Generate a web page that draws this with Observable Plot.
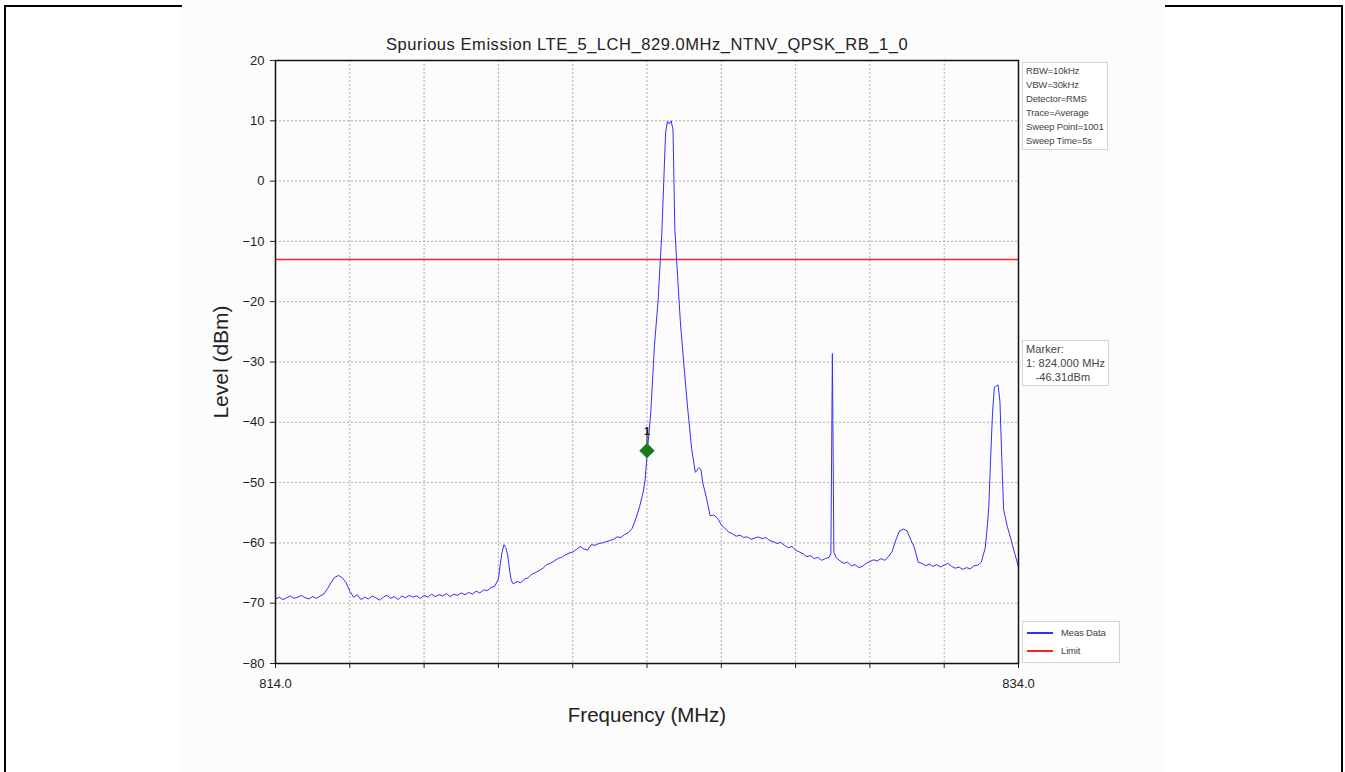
<!DOCTYPE html>
<html>
<head>
<meta charset="utf-8">
<script src="https://cdn.jsdelivr.net/npm/d3@7"></script>
<script src="https://cdn.jsdelivr.net/npm/@observablehq/plot@0.6"></script>
<style>
  html, body { margin: 0; padding: 0; background: #fff; }
  #wrap { position: relative; width: 1345px; height: 772px; overflow: hidden; font-family: "Liberation Sans", Arial, sans-serif; }
  .bl { position: absolute; background: #000; }
  #photo { position: absolute; left: 182px; top: 0; width: 983px; height: 772px; background: #fcfcfc; }
  #chart { position: absolute; left: 0; top: 0; }
  .box { position: absolute; border: 1px solid #d4d4d4; background: #fff; font-size: 9.5px; color: #444; line-height: 14px; padding: 1px 3px; white-space: pre; letter-spacing: -0.15px; }
  #mk { font-size: 11px; letter-spacing: 0.1px; }
  .ttl { letter-spacing: 0.55px; }
</style>
</head>
<body>
<div id="wrap">
  <div class="bl" style="left:4px;top:5px;width:2px;height:767px"></div>
  <div class="bl" style="left:4px;top:5px;width:180px;height:2px"></div>
  <div class="bl" style="left:1164px;top:5px;width:179px;height:2px"></div>
  <div class="bl" style="left:1341px;top:5px;width:2px;height:767px"></div>
  <div id="photo"></div>
  <div id="chart"></div>
</div>
<script>
// ---- data ----
const title = "Spurious Emission LTE_5_LCH_829.0MHz_NTNV_QPSK_RB_1_0";
const xTicks = [814, 816, 818, 820, 822, 824, 826, 828, 830, 832, 834];
const xTickLabels = ["814.0", "", "", "", "", "", "", "", "", "", "834.0"];
const yTicks = [20, 10, 0, -10, -20, -30, -40, -50, -60, -70, -80];
const limitLevel = -13;
const markerFreq = [824.0];
const markerLevel = [-44.7];
const markerName = ["1"];
const infoLines = ["RBW=10kHz", "VBW=30kHz", "Detector=RMS", "Trace=Average", "Sweep Point=1001", "Sweep Time=5s"];
const markerLines = ["Marker:", "1: 824.000 MHz", "   -46.31dBm"];
const seriesNames = ["Meas Data", "Limit"];

const freq = [
  814.0, 814.1, 814.2, 814.3, 814.4, 814.5, 814.6, 814.7, 814.8, 814.9,
  815.0, 815.1, 815.2, 815.3, 815.4, 815.5, 815.6, 815.7, 815.8, 815.9,
  816.0, 816.1, 816.2, 816.3, 816.4, 816.5, 816.6, 816.7, 816.8, 816.9,
  817.0, 817.1, 817.2, 817.3, 817.4, 817.5, 817.6, 817.7, 817.8, 817.9,
  818.0, 818.1, 818.2, 818.3, 818.4, 818.5, 818.6, 818.7, 818.8, 818.9,
  819.0, 819.1, 819.2, 819.3, 819.4, 819.5, 819.6, 819.7, 819.8, 819.9,
  820.0, 820.05, 820.1, 820.15, 820.2, 820.25, 820.3, 820.35, 820.4, 820.5,
  820.6, 820.7, 820.8, 820.9, 821.0, 821.1, 821.2, 821.3, 821.4, 821.5,
  821.6, 821.7, 821.8, 821.9, 822.0, 822.1, 822.2, 822.3, 822.4, 822.5,
  822.6, 822.7, 822.8, 822.9, 823.0, 823.1, 823.2, 823.3, 823.4, 823.5,
  823.6, 823.7, 823.8, 823.9, 823.95, 824.0, 824.1, 824.2, 824.3, 824.4,
  824.5, 824.55, 824.6, 824.65, 824.7, 824.75, 824.8, 824.9, 825.0, 825.1,
  825.2, 825.3, 825.4, 825.45, 825.5, 825.6, 825.7, 825.8, 825.9, 826.0,
  826.1, 826.2, 826.3, 826.4, 826.5, 826.6, 826.7, 826.8, 826.9, 827.0,
  827.1, 827.2, 827.3, 827.4, 827.5, 827.6, 827.7, 827.8, 827.9, 828.0,
  828.1, 828.2, 828.3, 828.4, 828.5, 828.6, 828.7, 828.8, 828.9, 828.95,
  828.99, 829.03, 829.1, 829.2, 829.3, 829.4, 829.5, 829.6, 829.7, 829.8,
  829.9, 830.0, 830.1, 830.2, 830.3, 830.4, 830.5, 830.6, 830.7, 830.8,
  830.9, 831.0, 831.1, 831.2, 831.3, 831.4, 831.5, 831.6, 831.7, 831.8,
  831.9, 832.0, 832.1, 832.2, 832.3, 832.4, 832.5, 832.6, 832.7, 832.8,
  832.9, 833.0, 833.05, 833.1, 833.15, 833.2, 833.25, 833.3, 833.35, 833.4,
  833.45, 833.5, 833.55, 833.6, 833.7, 833.8, 833.9, 834.0
];
const level = [
  -69.3, -69.0, -69.4, -69.1, -68.8, -69.2, -69.0, -68.7, -69.1, -69.3,
  -68.9, -69.2, -68.8, -68.5, -67.6, -66.5, -65.7, -65.4, -65.8, -66.6,
  -68.0, -69.0, -68.6, -69.4, -69.0, -69.3, -68.8, -69.1, -69.5, -69.0,
  -68.7, -69.2, -68.9, -69.4, -68.8, -69.1, -68.7, -69.0, -68.8, -69.2,
  -68.7, -69.0, -68.5, -68.9, -68.6, -68.8, -68.4, -68.9, -68.5, -68.7,
  -68.3, -68.6, -68.2, -68.5, -68.0, -68.3, -67.8, -67.9, -67.4, -67.2,
  -66.0, -63.5, -61.5, -60.3, -60.8, -62.0, -64.5, -66.3, -66.8, -66.4,
  -66.6, -66.0, -65.8, -65.2, -64.9, -64.6, -64.2, -63.6, -63.4, -63.0,
  -62.6, -62.4, -62.0, -61.7, -61.5, -61.1, -60.6, -61.0, -61.2, -60.3,
  -60.4, -60.1, -60.0, -59.8, -59.6, -59.4, -59.0, -59.1, -58.6, -58.3,
  -57.6, -56.0, -54.0, -51.5, -49.5, -45.5, -38.5, -27.3, -19.7, -8.5,
  8.0, 9.9, 9.5, 10.0, 8.5, -8.0, -13.4, -23.5, -31.0, -38.0,
  -44.3, -48.3, -47.5, -47.8, -50.0, -52.5, -55.5, -55.4, -55.9, -57.0,
  -57.6, -58.2, -58.5, -58.9, -58.7, -59.1, -59.0, -59.4, -59.2, -59.0,
  -59.3, -59.1, -59.6, -59.8, -60.1, -59.9, -60.4, -60.8, -60.6, -61.2,
  -61.5, -61.8, -62.3, -62.1, -62.6, -62.4, -62.9, -62.6, -62.4, -61.8,
  -28.6, -61.6, -62.5, -63.0, -63.4, -63.2, -63.8, -63.6, -64.1, -63.9,
  -63.4, -63.1, -62.8, -63.0, -62.6, -62.9, -62.3, -61.4, -59.5, -58.0,
  -57.7, -58.0, -59.5, -60.8, -63.2, -63.4, -63.8, -63.5, -63.9, -63.6,
  -64.0, -63.7, -63.4, -63.9, -64.2, -64.0, -64.4, -64.1, -64.3, -63.8,
  -63.7, -63.2, -62.0, -61.0, -58.0, -54.1, -46.0, -38.5, -34.2, -34.0,
  -33.8, -36.5, -46.0, -54.5, -57.3, -59.5, -61.8, -64.0
];

// ---- build ----
const trace = freq.map((f, i) => ({f, l: level[i]}));
const markers = markerFreq.map((f, i) => ({f, l: markerLevel[i], name: markerName[i]}));
const labelOf = new Map(xTicks.map((t, i) => [t, xTickLabels[i]]));

const chart = Plot.plot({
  width: 1345,
  height: 772,
  marginLeft: 275,
  marginRight: 327,
  marginTop: 60,
  marginBottom: 109,
  style: {fontFamily: "Liberation Sans, Arial, sans-serif", fontSize: "13px", background: "transparent", color: "#222"},
  x: {domain: [814, 834]},
  y: {domain: [-80, 20]},
  marks: [
    Plot.gridX(xTicks, {stroke: "#9a9a9a", strokeOpacity: 0.8, strokeDasharray: "2,2"}),
    Plot.gridY(yTicks, {stroke: "#9a9a9a", strokeOpacity: 0.8, strokeDasharray: "2,2"}),
    Plot.ruleY([limitLevel], {stroke: "#ff2020", strokeWidth: 1.3}),
    Plot.line(trace, {x: "f", y: "l", stroke: "#3030ff", strokeWidth: 1}),
    Plot.ruleX(markers, {x: "f", y1: "l", y2: d => d.l + 3.5, stroke: "#333", strokeWidth: 1.2}),
    Plot.dot(markers, {x: "f", y: "l", symbol: "diamond2", r: 6, fill: "#1c7a1c", stroke: "#1c7a1c"}),
    Plot.text(markers, {x: "f", y: "l", text: "name", dy: -19, fontSize: 11, fontWeight: "bold", fill: "#222"}),
    Plot.axisY(yTicks, {tickSize: 5, tickPadding: 6, label: null, fontSize: 13}),
    Plot.axisX(xTicks, {tickSize: 5, tickPadding: 10, label: null, tickFormat: d => labelOf.get(d), fontSize: 13}),
    Plot.text([title], {frameAnchor: "top", dy: -16, textAnchor: "middle", lineAnchor: "middle", fontSize: 16.5, fill: "#222", className: "ttl"}),
    Plot.text(["Level (dBm)"], {frameAnchor: "left", dx: -54, rotate: -90, textAnchor: "middle", lineAnchor: "middle", fontSize: 21, fill: "#222"}),
    Plot.text(["Frequency (MHz)"], {frameAnchor: "bottom", dy: 52, textAnchor: "middle", lineAnchor: "middle", fontSize: 20.5, fill: "#222"}),
    Plot.frame({stroke: "#111", strokeWidth: 1.5})
  ]
});
document.getElementById("chart").appendChild(chart);

// annotation boxes
const wrap = document.getElementById("wrap");
const info = document.createElement("div");
info.className = "box";
info.style.left = "1022px"; info.style.top = "62px";
info.textContent = infoLines.join("\n");
wrap.appendChild(info);

const mk = document.createElement("div");
mk.className = "box"; mk.id = "mk";
mk.style.left = "1022px"; mk.style.top = "340px";
mk.textContent = markerLines.join("\n");
wrap.appendChild(mk);

const leg = document.createElement("div");
leg.className = "box";
leg.style.left = "1022px"; leg.style.top = "621px"; leg.style.width = "90px"; leg.style.height = "38px";
const legColors = ["#3030ff", "#ff2020"];
seriesNames.forEach((n, i) => {
  const row = document.createElement("div");
  row.style.position = "absolute"; row.style.left = "4px"; row.style.top = (4 + i * 18) + "px";
  row.style.display = "flex"; row.style.alignItems = "center";
  const sw = document.createElement("span");
  sw.style.display = "inline-block"; sw.style.width = "26px"; sw.style.height = "1.5px";
  sw.style.background = legColors[i]; sw.style.marginRight = "8px";
  const tx = document.createElement("span");
  tx.textContent = n;
  row.appendChild(sw); row.appendChild(tx);
  leg.appendChild(row);
});
wrap.appendChild(leg);
</script>
</body>
</html>
